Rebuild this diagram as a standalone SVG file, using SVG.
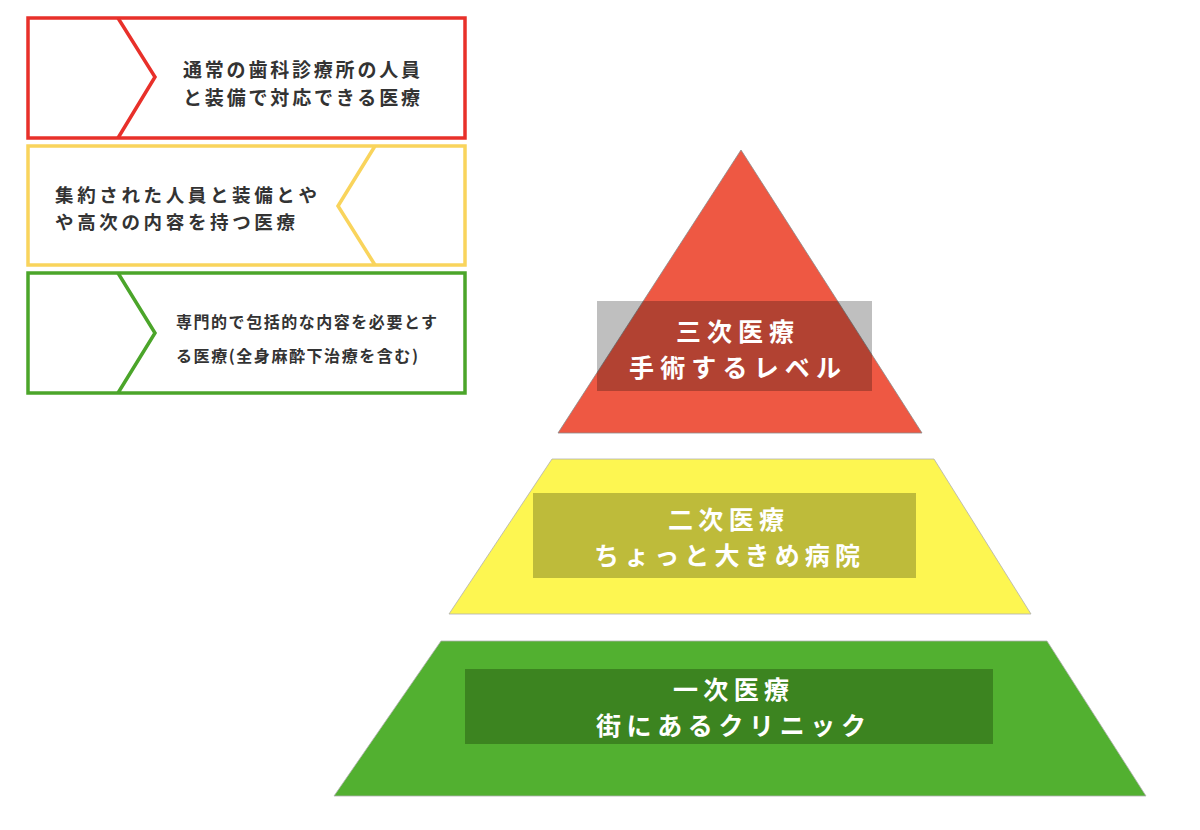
<svg xmlns="http://www.w3.org/2000/svg" width="1200" height="830" viewBox="0 0 1200 830">
<style>
.box{fill:#fff;stroke-width:3.5}
.chev{fill:none;stroke-width:3.5}
.lt{font-family:"Noto Sans CJK JP","Noto Sans",sans-serif;font-weight:bold;fill:#333}
.pt{font-family:"Noto Sans CJK JP","Noto Sans",sans-serif;font-weight:bold;fill:#fff;font-size:25px;text-anchor:middle}
</style>
<rect width="1200" height="830" fill="#fff"/>
<g id="legend-red">
<rect class="box" x="28" y="18" width="437" height="120" stroke="#E8302A"/>
<polyline class="chev" points="118,18 155,77 118,138" stroke="#E8302A"/>
<text class="lt" font-size="19" x="183" y="77" textLength="237">通常の歯科診療所の人員</text>
<text class="lt" font-size="19" x="183" y="104.5" textLength="237">と装備で対応できる医療</text>
</g>
<g id="legend-yellow">
<rect class="box" x="28" y="146" width="437" height="119" stroke="#F9D45C"/>
<polyline class="chev" points="375,146 338,206 375,265" stroke="#F9D45C"/>
<text class="lt" font-size="18.5" x="55" y="202" textLength="262">集約された人員と装備とや</text>
<text class="lt" font-size="18.5" x="55" y="229" textLength="240">や高次の内容を持つ医療</text>
</g>
<g id="legend-green">
<rect class="box" x="28" y="273" width="437" height="120" stroke="#4BA52A"/>
<polyline class="chev" points="118,273 155,333 118,393" stroke="#4BA52A"/>
<text class="lt" font-size="16" x="176" y="328" textLength="261">専門的で包括的な内容を必要とす</text>
<text class="lt" font-size="16" x="176" y="362" textLength="242">る医療(全身麻酔下治療を含む)</text>
</g>
<g id="tier3">
<polygon points="741,150 922,433 558,433" fill="#EE5843" stroke="#8a8a8a" stroke-width="0.8"/>
<rect x="597" y="301" width="275" height="90" fill="#000" fill-opacity="0.25"/>
<text class="pt" x="735" y="341" textLength="118">三次医療</text>
<text class="pt" x="735" y="377" textLength="212">手術するレベル</text>
</g>
<g id="tier2">
<polygon points="552,459 934,459 1031,614 449,614" fill="#FDF651" stroke="#b0b0b0" stroke-width="0.8"/>
<rect x="533" y="493" width="383" height="85" fill="#BEBB3A"/>
<text class="pt" x="726" y="529" textLength="116">二次医療</text>
<text class="pt" x="727" y="565" textLength="266">ちょっと大きめ病院</text>
</g>
<g id="tier1">
<polygon points="441,641 1047,641 1146,796 334,796" fill="#52B030" stroke="#b0b0b0" stroke-width="0.8"/>
<rect x="465" y="669" width="528" height="75" fill="#3C8420"/>
<text class="pt" x="731" y="699" textLength="116">一次医療</text>
<text class="pt" x="731" y="735" textLength="270">街にあるクリニック</text>
</g>
<g id="connectors"/>
</svg>
